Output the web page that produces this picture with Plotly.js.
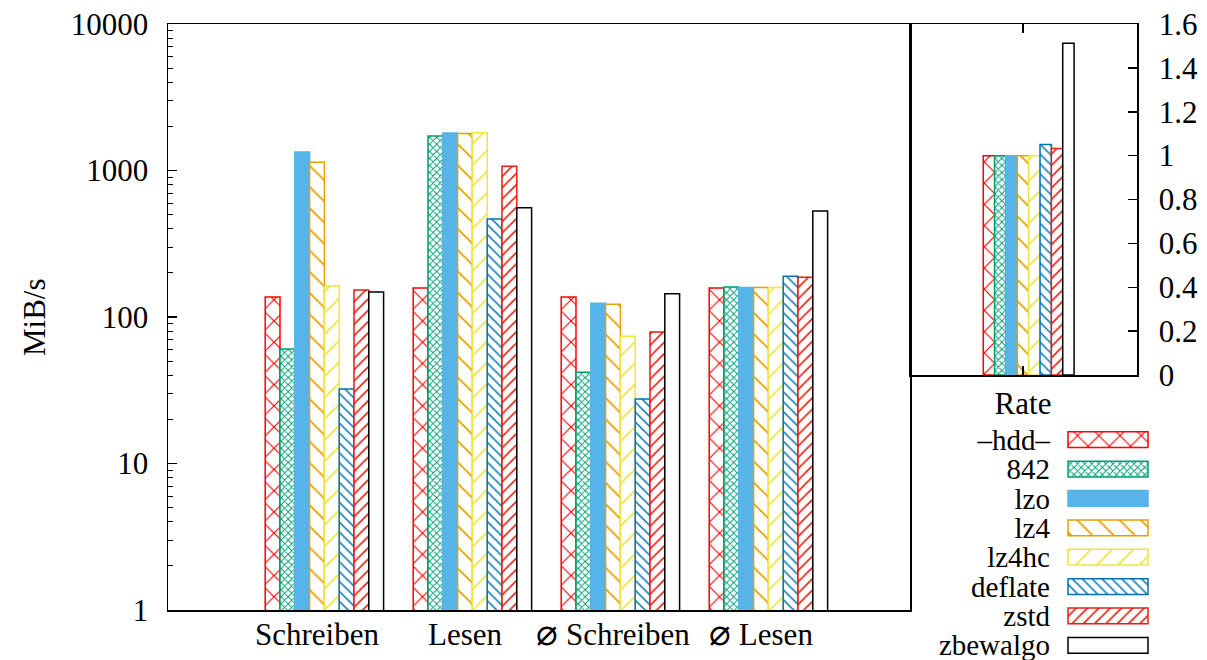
<!DOCTYPE html>
<html><head><meta charset="utf-8">
<script src="https://cdn.plot.ly/plotly-3.0.1.min.js"></script>
<style>
body{margin:0;background:#fff}
#chart{width:1207px;height:660px}
#chart svg text{font-family:'Liberation Serif', serif !important;}
</style>
</head><body><div id="chart"></div>
<script>
// ---- data ----
const categories = ['Schreiben', 'Lesen', '⌀ Schreiben', '⌀ Lesen'];
const seriesNames = ['–hdd–', '842', 'lzo', 'lz4', 'lz4hc', 'deflate', 'zstd', 'zbewalgo'];
const hdd      = [137, 158, 137, 158];
const c842     = [60.5, 1720, 42, 160];
const lzo      = [1340, 1800, 124, 159];
const lz4      = [1140, 1790, 122, 159];
const lz4hc    = [163, 1810, 74, 159];
const deflate  = [32.3, 467, 27.6, 190];
const zstd     = [153, 1070, 79, 187];
const zbewalgo = [148, 557, 144, 529];
const rateCategory = ['Rate'];
const rate = [1.0, 1.0, 1.0, 1.0, 1.0, 1.051, 1.033, 1.512];
const legendLen = 1;

const series = [hdd, c842, lzo, lz4, lz4hc, deflate, zstd, zbewalgo];

// ---- styles ----
const styles = [
  {color: '#ff0000', shape: 'x', size: 15, sol: 0.15},
  {color: '#009e73', shape: 'x', size: 5, sol: 0.35},
  {color: '#56b4e9', solid: true},
  {color: '#e69f00', shape: '\\', size: 15, sol: 0.12},
  {color: '#f0e442', shape: '/', size: 15, sol: 0.12},
  {color: '#0072b2', shape: '\\', size: 7, sol: 0.22},
  {color: '#e51e10', shape: '/', size: 8, sol: 0.2},
  {color: '#000000', none: true}
];
function mk(s) {
  if (s.solid) return {color: s.color, line: {color: s.color, width: 1.5}};
  if (s.none) return {color: '#ffffff', line: {color: s.color, width: 1.5}};
  return {color: '#ffffff', line: {color: s.color, width: 1.5},
    pattern: {shape: s.shape, fgcolor: s.color, bgcolor: '#ffffff', size: s.size, solidity: s.sol, fillmode: 'replace'}};
}

const W = 1207, H = 660;
const px = v => v / W, py = v => 1 - v / H;
const F = (size) => ({family: 'Liberation Serif', size: size || 31, color: '#000000'});
const catText = categories.map(c => c.replace('⌀', '<span style="font-size:36px">⌀</span>'));

const traces = [];
series.forEach((vals, i) => {
  traces.push({type: 'bar', x: categories, y: vals, xaxis: 'x', yaxis: 'y',
    offset: -0.35 + 0.1 * i, width: 0.1, marker: mk(styles[i]), name: seriesNames[i],
    showlegend: false, hoverinfo: 'y'});
  traces.push({type: 'bar', x: rateCategory, y: [rate[i]], xaxis: 'x2', yaxis: 'y2',
    offset: -0.35 + 0.1 * i, width: 0.1, marker: mk(styles[i]), name: seriesNames[i],
    showlegend: false, hoverinfo: 'y'});
  traces.push({type: 'bar', orientation: 'h', y: [seriesNames[i]], x: [legendLen], xaxis: 'x3', yaxis: 'y3',
    width: 0.54, marker: mk(styles[i]), showlegend: false, hoverinfo: 'skip'});
});

function axLine(extra) {
  return Object.assign({showline: true, linecolor: '#000', linewidth: 1.5, showgrid: false, zeroline: false,
    tickcolor: '#000', tickfont: F(31), fixedrange: true}, extra);
}

const layout = {
  width: W, height: H, margin: {l: 0, r: 0, t: 0, b: 0},
  paper_bgcolor: '#fff', plot_bgcolor: '#fff', barmode: 'overlay', showlegend: false,
  xaxis: axLine({domain: [px(168), px(910)], anchor: 'y', type: 'category',
    tickmode: 'array', tickvals: categories, ticktext: catText,
    range: [-1.0068, 4.0068], mirror: true, ticks: '', ticklabelstandoff: -4}),
  xaxis5: axLine({overlaying: 'x', anchor: 'y', type: 'linear',
    range: [-1.0068, 4.0068], tickvals: categories.map((_, i) => i + 0.45), ticks: 'inside',
    ticklen: 9, tickwidth: 1.5, mirror: 'ticks', showticklabels: false}),
  yaxis: axLine({domain: [py(610), py(24)], anchor: 'x', type: 'log',
    range: [0, 4], tickmode: 'linear', tick0: 0, dtick: 1, tickformat: 'd',
    ticks: 'inside', ticklen: 9, tickwidth: 1.5, mirror: true, ticklabelstandoff: 12,
    minor: {ticks: 'inside', ticklen: 5, tickwidth: 1, dtick: 'D1', tickcolor: '#000', showgrid: false}}),
  xaxis2: axLine({domain: [px(910), px(1137)], anchor: 'y2', type: 'category',
    range: [-0.9956, 1.0044], mirror: 'ticks', ticks: 'inside', ticklen: 9, tickwidth: 1.5, ticklabelstandoff: 0}),
  yaxis2: axLine({domain: [py(375), py(24)], anchor: 'x2', side: 'right',
    range: [0, 1.6], tick0: 0, dtick: 0.2, ticks: 'inside', ticklen: 9, tickwidth: 1.5, mirror: true, ticklabelstandoff: 14}),
  xaxis3: {domain: [px(1067), px(1149)], anchor: 'y3', range: [-0.0125, 1.0125], visible: false, fixedrange: true},
  yaxis3: {domain: [0, py(425)], anchor: 'x3', type: 'category', categoryorder: 'array', categoryarray: seriesNames,
    tickmode: 'array', tickvals: seriesNames, ticktext: seriesNames,
    range: [7.5, -0.5], showline: false, ticks: '', showgrid: false, zeroline: false, tickfont: F(29),
    ticklabelstandoff: 16, fixedrange: true},
  annotations: [{text: 'MiB/s', xref: 'paper', yref: 'paper', x: px(35), y: py(317), textangle: -90,
    showarrow: false, font: F(31), xanchor: 'center', yanchor: 'middle'}]
};

Plotly.newPlot('chart', traces, layout, {displayModeBar: false, staticPlot: true});
</script>
</body></html>
